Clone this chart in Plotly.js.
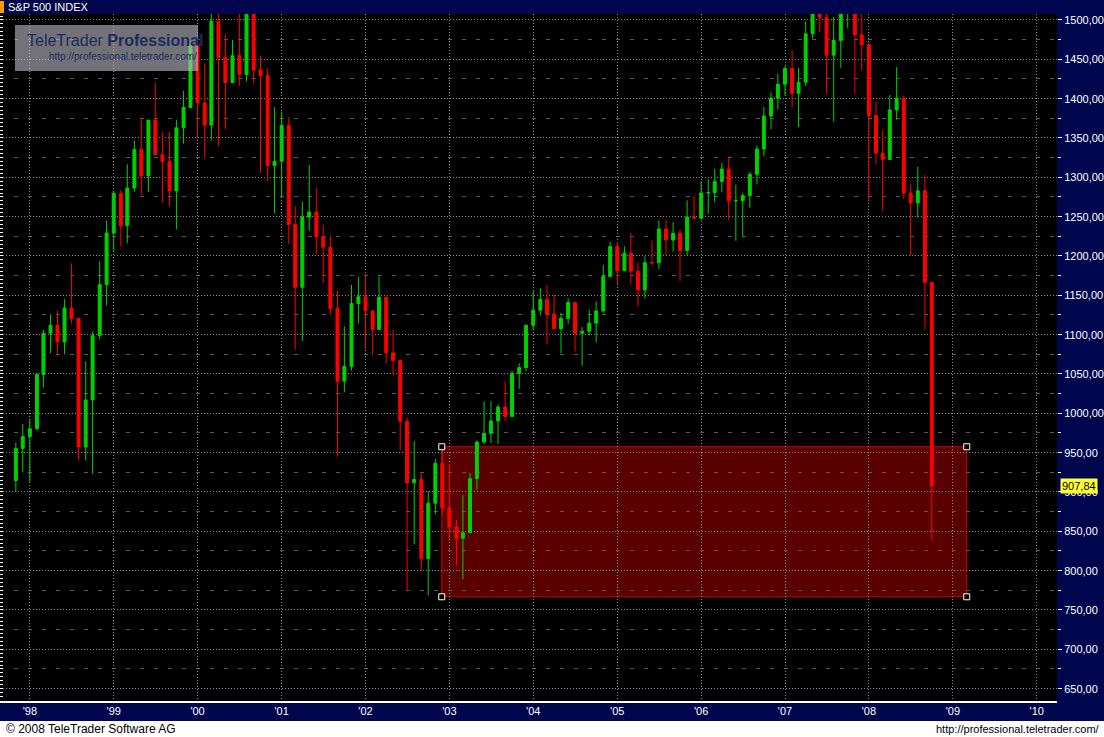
<!DOCTYPE html>
<html>
<head>
<meta charset="utf-8">
<script src="https://cdn.plot.ly/plotly-3.0.1.min.js"></script>
<style>
  html, body { margin: 0; padding: 0; background: #ffffff; }
  #chart { width: 1104px; height: 737px; }
</style>
</head>
<body>
<div id="chart"></div>
<script>
// ---- Data: S&P 500 INDEX, monthly candles ----
const months = [
  '1997-11-01','1997-12-01',
  '1998-01-01','1998-02-01','1998-03-01','1998-04-01','1998-05-01','1998-06-01','1998-07-01','1998-08-01','1998-09-01','1998-10-01','1998-11-01','1998-12-01',
  '1999-01-01','1999-02-01','1999-03-01','1999-04-01','1999-05-01','1999-06-01','1999-07-01','1999-08-01','1999-09-01','1999-10-01','1999-11-01','1999-12-01',
  '2000-01-01','2000-02-01','2000-03-01','2000-04-01','2000-05-01','2000-06-01','2000-07-01','2000-08-01','2000-09-01','2000-10-01','2000-11-01','2000-12-01',
  '2001-01-01','2001-02-01','2001-03-01','2001-04-01','2001-05-01','2001-06-01','2001-07-01','2001-08-01','2001-09-01','2001-10-01','2001-11-01','2001-12-01',
  '2002-01-01','2002-02-01','2002-03-01','2002-04-01','2002-05-01','2002-06-01','2002-07-01','2002-08-01','2002-09-01','2002-10-01','2002-11-01','2002-12-01',
  '2003-01-01','2003-02-01','2003-03-01','2003-04-01','2003-05-01','2003-06-01','2003-07-01','2003-08-01','2003-09-01','2003-10-01','2003-11-01','2003-12-01',
  '2004-01-01','2004-02-01','2004-03-01','2004-04-01','2004-05-01','2004-06-01','2004-07-01','2004-08-01','2004-09-01','2004-10-01','2004-11-01','2004-12-01',
  '2005-01-01','2005-02-01','2005-03-01','2005-04-01','2005-05-01','2005-06-01','2005-07-01','2005-08-01','2005-09-01','2005-10-01','2005-11-01','2005-12-01',
  '2006-01-01','2006-02-01','2006-03-01','2006-04-01','2006-05-01','2006-06-01','2006-07-01','2006-08-01','2006-09-01','2006-10-01','2006-11-01','2006-12-01',
  '2007-01-01','2007-02-01','2007-03-01','2007-04-01','2007-05-01','2007-06-01','2007-07-01','2007-08-01','2007-09-01','2007-10-01','2007-11-01','2007-12-01',
  '2008-01-01','2008-02-01','2008-03-01','2008-04-01','2008-05-01','2008-06-01','2008-07-01','2008-08-01','2008-09-01','2008-10-01'
];
const openP = [
  914.6, 955.4,
  970.4, 980.3, 1049.3, 1101.8, 1111.8, 1090.8, 1133.8, 1120.7, 957.3, 1017.0, 1098.7, 1163.6,
  1229.2, 1279.6, 1238.3, 1286.4, 1335.2, 1301.8, 1372.7, 1328.7, 1320.4, 1282.7, 1362.9, 1388.9,
  1469.3, 1394.5, 1366.4, 1498.6, 1452.4, 1420.6, 1454.6, 1430.8, 1517.7, 1436.5, 1429.4, 1315.0,
  1320.3, 1366.0, 1239.9, 1160.3, 1249.5, 1255.8, 1224.4, 1211.2, 1133.6, 1040.9, 1059.8, 1139.5,
  1148.1, 1130.2, 1106.7, 1147.4, 1076.9, 1067.1, 989.8, 911.6, 916.1, 815.3, 885.8, 936.3,
  879.8, 855.7, 841.2, 848.2, 916.9, 963.6, 974.5, 990.3, 1008.0, 996.0, 1050.7, 1058.2,
  1111.9, 1131.1, 1144.9, 1126.2, 1107.3, 1120.7, 1140.8, 1101.7, 1104.2, 1114.6, 1130.2, 1173.8,
  1211.9, 1181.3, 1203.6, 1180.6, 1156.9, 1191.5, 1191.3, 1234.2, 1220.3, 1228.8, 1207.0, 1249.5,
  1248.3, 1280.1, 1280.7, 1294.8, 1310.6, 1270.1, 1270.2, 1276.7, 1303.8, 1335.9, 1377.9, 1400.6,
  1418.3, 1438.2, 1406.8, 1420.9, 1482.4, 1530.6, 1503.4, 1455.3, 1474.0, 1526.8, 1549.4, 1481.1,
  1468.4, 1378.6, 1330.6, 1322.7, 1385.6, 1400.4, 1280.0, 1267.4, 1282.8, 1166.4
];
const highP = [
  963.0, 986.3,
  992.7, 1051.7, 1106.0, 1126.0, 1130.5, 1145.0, 1190.6, 1121.5, 1066.1, 1103.8, 1193.0, 1244.9,
  1283.0, 1283.8, 1316.6, 1347.0, 1376.0, 1373.0, 1420.3, 1357.2, 1357.7, 1373.2, 1410.0, 1473.1,
  1478.0, 1444.6, 1552.9, 1527.2, 1481.5, 1474.6, 1517.3, 1525.2, 1530.1, 1454.8, 1438.5, 1389.1,
  1383.4, 1376.4, 1263.5, 1269.3, 1315.9, 1286.6, 1239.8, 1226.3, 1155.4, 1110.6, 1163.4, 1173.6,
  1176.6, 1130.8, 1173.9, 1147.8, 1106.6, 1067.7, 994.5, 965.0, 924.0, 901.0, 941.8, 954.3,
  935.1, 864.6, 895.9, 924.2, 965.4, 1015.3, 1015.4, 1011.0, 1040.3, 1053.8, 1063.7, 1112.0,
  1155.4, 1159.0, 1163.2, 1150.6, 1127.7, 1146.2, 1140.8, 1109.7, 1131.5, 1142.1, 1188.5, 1217.9,
  1217.8, 1212.4, 1229.1, 1191.9, 1199.6, 1219.6, 1245.2, 1245.9, 1243.1, 1233.3, 1270.6, 1275.8,
  1294.9, 1297.6, 1310.9, 1318.2, 1326.7, 1290.7, 1280.4, 1306.7, 1340.3, 1389.5, 1407.9, 1431.8,
  1441.6, 1461.6, 1438.9, 1498.0, 1535.6, 1540.6, 1555.9, 1503.9, 1538.7, 1576.1, 1552.8, 1523.6,
  1471.8, 1396.0, 1359.7, 1404.6, 1440.2, 1404.1, 1292.2, 1313.2, 1303.0, 1167.0
];
const lowP = [
  900.0, 924.9,
  912.8, 979.1, 1032.6, 1076.7, 1074.4, 1074.7, 1114.3, 940.0, 939.98, 923.3, 1094.0, 1136.9,
  1205.5, 1211.9, 1216.0, 1282.0, 1277.3, 1281.4, 1328.0, 1268.4, 1263.0, 1233.7, 1342.8, 1387.4,
  1350.1, 1325.1, 1346.6, 1339.4, 1361.1, 1420.0, 1416.5, 1422.0, 1419.4, 1305.8, 1294.9, 1254.1,
  1274.6, 1215.4, 1081.2, 1092.0, 1232.0, 1203.0, 1165.5, 1124.9, 944.8, 1026.8, 1054.3, 1114.3,
  1081.7, 1074.4, 1106.7, 1063.5, 1049.0, 952.9, 775.7, 833.4, 800.2, 768.6, 872.1, 872.0,
  840.3, 806.3, 788.9, 847.9, 902.8, 961.0, 962.1, 960.8, 990.4, 996.0, 1031.2, 1053.4,
  1105.1, 1124.4, 1087.2, 1107.2, 1076.3, 1113.3, 1078.8, 1060.7, 1099.0, 1090.2, 1127.6, 1173.8,
  1163.8, 1180.6, 1163.7, 1136.2, 1146.2, 1188.3, 1183.6, 1201.1, 1205.4, 1168.2, 1201.1, 1246.6,
  1245.7, 1253.6, 1268.4, 1280.7, 1245.3, 1219.3, 1224.5, 1261.3, 1290.9, 1327.1, 1361.0, 1385.9,
  1404.0, 1389.4, 1364.0, 1416.4, 1476.7, 1484.2, 1406.7, 1370.6, 1439.3, 1489.6, 1406.1, 1435.7,
  1270.1, 1316.8, 1257.0, 1324.4, 1373.1, 1272.0, 1200.4, 1248.6, 1106.4, 839.8
];
const closeP = [
  955.4, 970.4,
  980.3, 1049.3, 1101.8, 1111.8, 1090.8, 1133.8, 1120.7, 957.3, 1017.0, 1098.7, 1163.6, 1229.2,
  1279.6, 1238.3, 1286.4, 1335.2, 1301.8, 1372.7, 1328.7, 1320.4, 1282.7, 1362.9, 1388.9, 1469.3,
  1394.5, 1366.4, 1498.6, 1452.4, 1420.6, 1454.6, 1430.8, 1517.7, 1436.5, 1429.4, 1315.0, 1320.3,
  1366.0, 1239.9, 1160.3, 1249.5, 1255.8, 1224.4, 1211.2, 1133.6, 1040.9, 1059.8, 1139.5, 1148.1,
  1130.2, 1106.7, 1147.4, 1076.9, 1067.1, 989.8, 911.6, 916.1, 815.3, 885.8, 936.3, 879.8,
  855.7, 841.2, 848.2, 916.9, 963.6, 974.5, 990.3, 1008.0, 996.0, 1050.7, 1058.2, 1111.9,
  1131.1, 1144.9, 1126.2, 1107.3, 1120.7, 1140.8, 1101.7, 1104.2, 1114.6, 1130.2, 1173.8, 1211.9,
  1181.3, 1203.6, 1180.6, 1156.9, 1191.5, 1191.3, 1234.2, 1220.3, 1228.8, 1207.0, 1249.5, 1248.3,
  1280.1, 1280.7, 1294.8, 1310.6, 1270.1, 1270.2, 1276.7, 1303.8, 1335.9, 1377.9, 1400.6, 1418.3,
  1438.2, 1406.8, 1420.9, 1482.4, 1530.6, 1503.4, 1455.3, 1474.0, 1526.8, 1549.4, 1481.1, 1468.4,
  1378.6, 1330.6, 1322.7, 1385.6, 1400.4, 1280.0, 1267.4, 1282.8, 1166.4, 907.84
];
const lastPrice = 907.84;
const lastLabel = '907,84';

// highlighted zone (drawn rectangle)
const zoneDates = ['2002-11-29', '2009-03-02'];
const zoneLevels = [766.8, 957.5];

const instrument = 'S&amp;P 500 INDEX';
const footerLeft = '\u00a9 2008 TeleTrader Software AG';
const footerRight = 'http://professional.teletrader.com/';
const brandMain = 'TeleTrader <b>Professional</b>';
const brandUrl = 'http://professional.teletrader.com/';

// ---- Geometry helpers (pixel -> paper) ----
const W = 1104, H = 737, ML = 0, MR = 47, MT = 14, MB = 36;
const PW = W - ML - MR, PH = H - MT - MB;
const px = x => (x - ML) / PW;
const py = y => (H - MB - y) / PH;

const NAVY = '#00064e';
const GREEN = '#00d200';
const RED = '#ff0000';
const FONT = 'Liberation Sans, Arial, sans-serif';

const traces = [
  {
    type: 'candlestick',
    x: months, open: openP, high: highP, low: lowP, close: closeP,
    increasing: { line: { color: GREEN, width: 1 }, fillcolor: GREEN },
    decreasing: { line: { color: RED, width: 1 }, fillcolor: RED },
    whiskerwidth: 0,
    hoverinfo: 'skip',
    showlegend: false
  },
  {
    type: 'scatter', mode: 'markers',
    x: [zoneDates[0], zoneDates[0], zoneDates[1], zoneDates[1]],
    y: [zoneLevels[1], zoneLevels[0], zoneLevels[1], zoneLevels[0]],
    marker: { symbol: 'square', size: 6, color: '#000000', line: { color: '#ffffff', width: 1 } },
    cliponaxis: false, hoverinfo: 'skip', showlegend: false
  },
  {
    type: 'scatter', mode: 'lines', x: months, y: closeP, yaxis: 'y2',
    line: { width: 0, color: 'rgba(0,0,0,0)' }, hoverinfo: 'skip', showlegend: false
  }
];

const yRange = [634.3, 1507.6];

const layout = {
  width: W, height: H,
  margin: { l: ML, r: MR, t: MT, b: MB, pad: 0 },
  paper_bgcolor: '#ffffff',
  plot_bgcolor: '#000000',
  separators: ', ',
  showlegend: false,
  boxgap: 0.35,
  font: { family: FONT, size: 11, color: '#ffffff' },
  xaxis: {
    type: 'date',
    range: ['1997-08-24', '2010-03-30'],
    rangeslider: { visible: false },
    dtick: 'M12', tick0: '1998-01-01', tickformat: "'%y",
    showgrid: true, gridcolor: '#8a8a8a', griddash: '1px,2px', gridwidth: 1,
    ticks: '', showline: true, linecolor: '#ffffff', linewidth: 1,
    tickfont: { family: FONT, size: 11, color: '#ffffff' },
    zeroline: false, fixedrange: true
  },
  yaxis: {
    side: 'right', range: yRange, dtick: 50, tick0: 0, tickformat: '.2f',
    showgrid: true, gridcolor: '#8a8a8a', griddash: '1px,2px', gridwidth: 1,
    ticks: 'outside', ticklen: 4, tickcolor: '#ffffff', tickwidth: 1,
    minor: { dtick: 25, showgrid: true, gridcolor: '#5a5a5a', griddash: '4px,10px', ticks: 'outside', ticklen: 3, tickcolor: '#ffffff' },
    tickfont: { family: FONT, size: 11, color: '#ffffff' },
    showline: false, zeroline: false, fixedrange: true
  },
  yaxis2: {
    overlaying: 'y', side: 'left', range: yRange, dtick: 5, tick0: 0,
    ticks: 'inside', ticklen: 3, tickcolor: '#ffffff', tickwidth: 1,
    showticklabels: false, showgrid: false, zeroline: false, showline: false, fixedrange: true
  },
  shapes: [
    // navy header, right axis column and bottom axis band
    { type: 'rect', xref: 'paper', yref: 'paper', x0: px(0), x1: px(W), y0: py(MT), y1: py(0), fillcolor: NAVY, line: { width: 0 }, layer: 'below' },
    { type: 'rect', xref: 'paper', yref: 'paper', x0: px(W - MR), x1: px(W), y0: py(721), y1: py(MT), fillcolor: NAVY, line: { width: 0 }, layer: 'below' },
    { type: 'rect', xref: 'paper', yref: 'paper', x0: px(0), x1: px(W - MR), y0: py(721), y1: py(703), fillcolor: NAVY, line: { width: 0 }, layer: 'below' },
    // orange marker in header
    { type: 'rect', xref: 'paper', yref: 'paper', x0: px(0), x1: px(4), y0: py(13), y1: py(1), fillcolor: '#ff9a00', line: { width: 0 }, layer: 'above' },
    // highlighted zone
    { type: 'rect', xref: 'x', yref: 'y', x0: zoneDates[0], x1: zoneDates[1], y0: zoneLevels[0], y1: zoneLevels[1],
      fillcolor: 'rgba(150,0,0,0.6)', line: { color: '#d00000', width: 1 }, layer: 'below' },
    // watermark box
    { type: 'rect', xref: 'paper', yref: 'paper', x0: px(15), x1: px(198), y0: py(71), y1: py(25),
      fillcolor: 'rgba(190,190,200,0.6)', line: { width: 0 }, layer: 'above' }
  ],
  annotations: [
    { xref: 'paper', yref: 'paper', x: px(6), y: py(7), xanchor: 'left', yanchor: 'middle', showarrow: false,
      text: instrument, font: { family: FONT, size: 11, color: '#ffffe0' } },
    { xref: 'paper', yref: 'paper', x: px(25), y: py(41), xanchor: 'left', yanchor: 'middle', showarrow: false,
      text: brandMain, font: { family: FONT, size: 16, color: '#1d2b5e' } },
    { xref: 'paper', yref: 'paper', x: px(47), y: py(57), xanchor: 'left', yanchor: 'middle', showarrow: false,
      text: brandUrl, font: { family: FONT, size: 10, color: '#1d2b5e' } },
    { xref: 'paper', yref: 'y', x: px(W - MR + 3), y: lastPrice, xanchor: 'left', yanchor: 'middle', showarrow: false,
      text: lastLabel, bgcolor: '#ffff33', borderpad: 1, font: { family: FONT, size: 11, color: '#000000' } },
    { xref: 'paper', yref: 'paper', x: px(4), y: py(729), xanchor: 'left', yanchor: 'middle', showarrow: false,
      text: footerLeft, font: { family: FONT, size: 12, color: '#000000' } },
    { xref: 'paper', yref: 'paper', x: px(1102), y: py(729), xanchor: 'right', yanchor: 'middle', showarrow: false,
      text: footerRight, font: { family: FONT, size: 11, color: '#000000' } }
  ]
};

Plotly.newPlot('chart', traces, layout, { staticPlot: true, displayModeBar: false });
</script>
</body>
</html>
